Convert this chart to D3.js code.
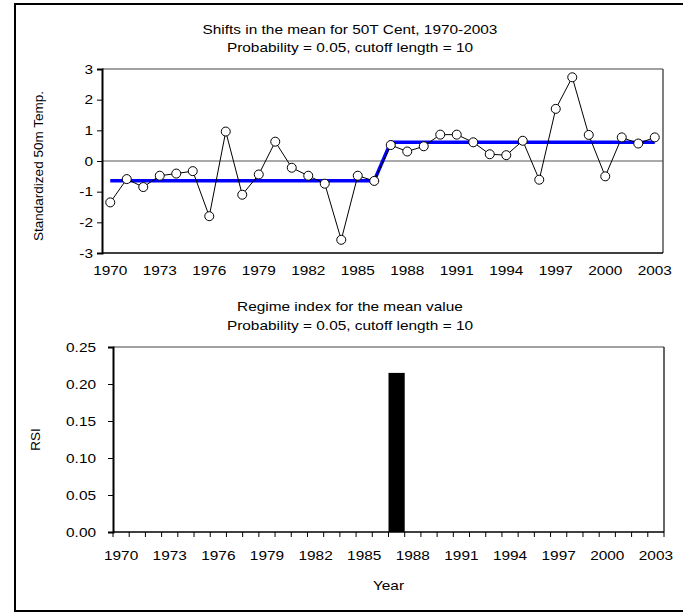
<!DOCTYPE html>
<html>
<head>
<meta charset="utf-8">
<script src="https://cdn.jsdelivr.net/npm/d3@7"></script>
<style>
  body { margin: 0; background: #fff; }
  svg { display: block; font-family: "Liberation Sans", Arial, sans-serif; }
</style>
</head>
<body>
<div id="chart"></div>
<script>
const years = d3.range(1970, 2004);
const tempValues = [-1.35, -0.59, -0.85, -0.48, -0.41, -0.33, -1.80, 0.96, -1.10, -0.44,
  0.63, -0.22, -0.48, -0.74, -2.57, -0.48, -0.65, 0.52, 0.31, 0.48,
  0.86, 0.86, 0.61, 0.22, 0.19, 0.66, -0.61, 1.70, 2.73, 0.85,
  -0.50, 0.77, 0.57, 0.77];
// regime mean for each year (shift in 1987)
const regimeMeans = [-0.64, -0.64, -0.64, -0.64, -0.64, -0.64, -0.64, -0.64, -0.64, -0.64,
  -0.64, -0.64, -0.64, -0.64, -0.64, -0.64, -0.64, 0.61, 0.61, 0.61,
  0.61, 0.61, 0.61, 0.61, 0.61, 0.61, 0.61, 0.61, 0.61, 0.61,
  0.61, 0.61, 0.61, 0.61];
const rsiYears = [1987];
const rsiValues = [0.215];
const tempTicks = [-3, -2, -1, 0, 1, 2, 3];
const rsiTicks = [0, 0.05, 0.10, 0.15, 0.20, 0.25];
const yearLabels = [1970, 1973, 1976, 1979, 1982, 1985, 1988, 1991, 1994, 1997, 2000, 2003];

const W = 683, H = 613;
const svg = d3.select("#chart").append("svg")
  .attr("width", W).attr("height", H);

// outer frame
svg.append("rect")
  .attr("x", 15).attr("y", 4).attr("width", 700).attr("height", 607)
  .attr("fill", "none").attr("stroke", "#000").attr("stroke-width", 2);

const fs = 13.5;
const stretch = 1.14; // the original text is a bit wider than Arial

// ---------- top chart ----------
const upper = { left: 102, right: 663, top: 69, bottom: 253 };

const x1 = d3.scaleBand().domain(years).range([upper.left, upper.right]);
const y1 = d3.scaleLinear().domain([-3, 3]).range([upper.bottom, upper.top]);

svg.append("text").attr("class", "wide").attr("x", 350).attr("y", 34).attr("text-anchor", "middle")
  .style("font-size", fs + "px").text("Shifts in the mean for 50T Cent, 1970-2003");
svg.append("text").attr("class", "wide").attr("x", 350).attr("y", 52).attr("text-anchor", "middle")
  .style("font-size", fs + "px").text("Probability = 0.05, cutoff length = 10");

// plot borders
svg.append("line").attr("x1", upper.left).attr("x2", upper.right).attr("y1", upper.top).attr("y2", upper.top)
  .attr("stroke", "#808080").attr("stroke-width", 1.5);
svg.append("line").attr("x1", upper.right).attr("x2", upper.right).attr("y1", upper.top).attr("y2", upper.bottom)
  .attr("stroke", "#555").attr("stroke-width", 1.5);
svg.append("line").attr("x1", upper.left).attr("x2", upper.right).attr("y1", upper.bottom).attr("y2", upper.bottom)
  .attr("stroke", "#000").attr("stroke-width", 1.5);

// zero line
svg.append("line").attr("x1", upper.left).attr("x2", upper.right).attr("y1", y1(0)).attr("y2", y1(0))
  .attr("stroke", "#555").attr("stroke-width", 1);

const yAxis1 = svg.append("g")
  .attr("transform", `translate(${upper.left},0)`)
  .call(d3.axisLeft(y1).tickValues(tempTicks).tickFormat(d => String(d)).tickSize(5).tickPadding(4));
yAxis1.select(".domain").attr("stroke-width", 2);
yAxis1.attr("font-family", null);
yAxis1.selectAll("text").attr("class", "wide").style("font-size", fs + "px");

const xAxis1 = svg.append("g")
  .attr("transform", `translate(0,${upper.bottom})`)
  .call(d3.axisBottom(x1).tickValues(yearLabels).tickSize(0).tickPadding(12));
xAxis1.select(".domain").remove();
xAxis1.attr("font-family", null);
xAxis1.selectAll("text").attr("class", "wide").style("font-size", fs + "px");

svg.append("text")
  .attr("transform", `translate(43,166) rotate(-90)`)
  .attr("text-anchor", "middle").style("font-size", fs + "px")
  .text("Standardized 50m Temp.");

const cx = d => x1(d) + x1.bandwidth() / 2;

svg.append("path")
  .datum(years)
  .attr("fill", "none").attr("stroke", "#0000ff").attr("stroke-width", 3.5)
  .attr("d", d3.line().x(d => cx(d)).y((d, i) => y1(regimeMeans[i])));

svg.append("path")
  .datum(years)
  .attr("fill", "none").attr("stroke", "#000").attr("stroke-width", 1)
  .attr("d", d3.line().x(d => cx(d)).y((d, i) => y1(tempValues[i])));

svg.selectAll("circle.pt")
  .data(years)
  .join("circle")
  .attr("class", "pt")
  .attr("cx", d => cx(d))
  .attr("cy", (d, i) => y1(tempValues[i]))
  .attr("r", 4.5)
  .attr("fill", "#fff").attr("stroke", "#000").attr("stroke-width", 1);

// ---------- bottom chart ----------
const lower = { left: 113, right: 664, top: 347, bottom: 532 };

const x2 = d3.scaleBand().domain(years).range([lower.left, lower.right]);
const y2 = d3.scaleLinear().domain([0, 0.25]).range([lower.bottom, lower.top]);

svg.append("text").attr("class", "wide").attr("x", 350).attr("y", 311).attr("text-anchor", "middle")
  .style("font-size", fs + "px").text("Regime index for the mean value");
svg.append("text").attr("class", "wide").attr("x", 350).attr("y", 330).attr("text-anchor", "middle")
  .style("font-size", fs + "px").text("Probability = 0.05, cutoff length = 10");

svg.append("line").attr("x1", lower.left).attr("x2", lower.right).attr("y1", lower.top).attr("y2", lower.top)
  .attr("stroke", "#808080").attr("stroke-width", 1.5);
svg.append("line").attr("x1", lower.right).attr("x2", lower.right).attr("y1", lower.top).attr("y2", lower.bottom)
  .attr("stroke", "#333").attr("stroke-width", 1.5);

svg.selectAll("rect.bar")
  .data(rsiYears)
  .join("rect")
  .attr("class", "bar")
  .attr("x", d => x2(d))
  .attr("width", x2.bandwidth())
  .attr("y", (d, i) => y2(rsiValues[i]))
  .attr("height", (d, i) => lower.bottom - y2(rsiValues[i]))
  .attr("fill", "#000");

const yAxis2 = svg.append("g")
  .attr("transform", `translate(${lower.left},0)`)
  .call(d3.axisLeft(y2).tickValues(rsiTicks).tickFormat(d3.format(".2f")).tickSize(5).tickPadding(12));
yAxis2.select(".domain").attr("stroke-width", 2);
yAxis2.attr("font-family", null);
yAxis2.selectAll("text").attr("class", "wide").style("font-size", fs + "px");

// tick marks at band edges
const xAxis2 = svg.append("g").attr("transform", `translate(0,${lower.bottom})`);
xAxis2.append("line").attr("x1", lower.left).attr("x2", lower.right).attr("stroke", "#000").attr("stroke-width", 1.5);
xAxis2.selectAll("line.edge")
  .data(years.concat([2004]))
  .join("line")
  .attr("class", "edge")
  .attr("x1", d => d === 2004 ? lower.right : x2(d))
  .attr("x2", d => d === 2004 ? lower.right : x2(d))
  .attr("y1", 0).attr("y2", 5)
  .attr("stroke", "#000");
const xAxisLabels = svg.append("g")
  .attr("transform", `translate(0,${lower.bottom})`)
  .call(d3.axisBottom(x2).tickValues(yearLabels).tickSize(0).tickPadding(18));
xAxisLabels.select(".domain").remove();
xAxisLabels.attr("font-family", null);
xAxisLabels.selectAll("text").attr("class", "wide").style("font-size", fs + "px");

svg.append("text").attr("class", "wide")
  .attr("x", (lower.left + lower.right) / 2).attr("y", 590)
  .attr("text-anchor", "middle").style("font-size", fs + "px").text("Year");

svg.append("text")
  .attr("transform", `translate(40,${(lower.top + lower.bottom) / 2}) rotate(-90)`)
  .attr("text-anchor", "middle").style("font-size", fs + "px")
  .text("RSI");

// widen horizontal text to match the original's proportions
svg.selectAll("text.wide").each(function() {
  const w = this.getComputedTextLength();
  d3.select(this).attr("textLength", w * stretch).attr("lengthAdjust", "spacingAndGlyphs");
});
</script>
</body>
</html>
